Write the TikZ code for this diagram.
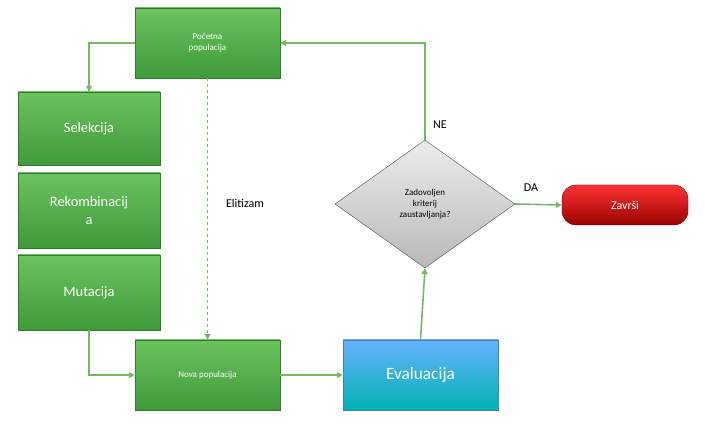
\documentclass[tikz,border=0pt]{standalone}
\usepackage{fontspec}
\setmainfont{Carlito}
\usetikzlibrary{shapes.geometric,arrows.meta}
\definecolor{gA}{HTML}{6CC35F}
\definecolor{gB}{HTML}{3E9A3A}
\definecolor{lnG}{HTML}{77B865}
\begin{document}
\begin{tikzpicture}[x=1pt,y=-1pt,
  gbox/.style={draw=gB!80!black,top color=gA,bottom color=gB,text=white,minimum width=#1,align=center},
  arr/.style={draw=lnG,line width=1.6pt,-{Triangle[length=6pt,width=6pt]}}]
\useasboundingbox (0,0) rectangle (705,430);
\node[gbox=145pt,minimum height=70pt,font=\small] (p) at (207.5,43) {Početna\\populacija};
\node[gbox=142pt,minimum height=73pt,font=\Large] (s) at (89,128.5) {Selekcija};
\node[gbox=142pt,minimum height=75pt,font=\Large] (r) at (89,210.5) {Rekombinacij\\a};
\node[gbox=142pt,minimum height=75pt,font=\Large] (m) at (89,292.5) {Mutacija};
\node[gbox=145pt,minimum height=70pt,font=\small] (n) at (207.5,375) {Nova populacija};
\node[draw=cyan!60!black,top color=cyan!50!blue!60,bottom color=cyan!70!black,text=white,minimum width=155pt,minimum height=70pt,font=\LARGE] (e) at (420.5,375) {Evaluacija};
\node[diamond,draw=gray!60!black,top color=gray!15,bottom color=gray!55,minimum width=180pt,minimum height=128pt,inner sep=0pt,aspect=1.4,align=center,font=\small] (d) at (425,204) {Zadovoljen\\kriterij\\zaustavljanja?};
\node[draw=red!50!black,top color=red!80,bottom color=red!60!black,text=white,rounded corners=14pt,minimum width=126pt,minimum height=40pt,font=\large] (z) at (625,205) {Završi};
\draw[arr] (p.west) -| (s.north);
\draw[arr,dashed] (p.south) -- (n.north);
\node[font=\large] (el) at (245,203) {Elitizam};
\draw[arr] (m.south) |- (n.west);
\draw[arr] (n.east) -- (e.west);
\draw[arr] (e.north) -- (d.south);
\draw[arr] (d.north) |- (p.east);
\node[font=\large] (ne) at (440,125) {NE};
\draw[arr] (d.east) -- (z.west);
\node[font=\large] (da) at (531,188) {DA};
\end{tikzpicture}
\end{document}
